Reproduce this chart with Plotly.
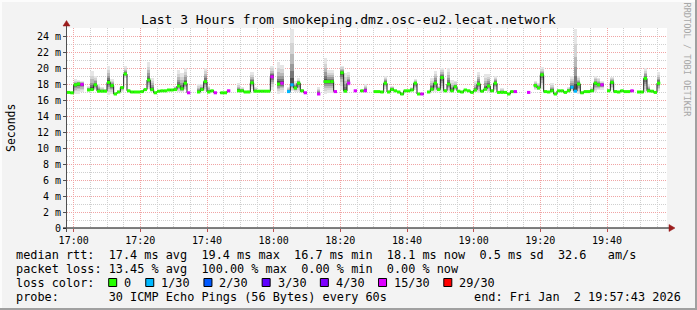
import plotly.graph_objects as go
from datetime import datetime, timedelta

# ---------------- data (one value per minute, 180 minutes) ----------------
start_time = datetime(2026, 1, 2, 16, 58, 0)

median_ms = [
    16.95, 16.9, 17.9, 18.0, 17.95, None, 17.25, 17.3, 17.9, 17.1,
    17.1, 17.1, 18.2, 17.8, 16.75, 17.0, 17.55, 19.25, 17.15, 17.0,
    17.0, 17.0, 17.05, 17.3, 18.5, 17.3, 16.9, 17.1, 17.15, 17.15,
    17.25, 17.25, 17.3, 17.75, 17.4, 18.1, 16.9, None, None, 17.0,
    17.3, 18.3, 17.0, 17.15, 16.9, None, 16.9, 16.9, 17.15, None,
    None, 17.15, 17.15, 17.0, 17.0, 18.15, 17.1, 17.1, 17.1, 17.1,
    17.1, 18.9, None, 18.0, 18.1, None, 17.05, 17.9, 17.5, 18.1,
    17.15, 16.9, None, None, None, 16.75, None, 18.3, 18.3, 18.3,
    17.05, None, 19.4, 17.1, 18.1, None, 17.15, None, 17.15, 17.15,
    None, None, 17.05, 17.05, 17.0, 18.1, 17.0, 17.3, 17.15, 17.0,
    16.75, 17.15, 17.15, 17.25, 18.1, 16.75, 16.75, None, 17.0, 17.35,
    18.1, 17.3, 18.8, 17.15, 18.0, 17.15, 17.65, 17.1, 17.0, 17.25,
    17.15, 16.95, 17.25, 18.0, 17.1, 17.35, 17.75, 17.15, 18.1, 16.95,
    16.95, 16.95, 16.75, 17.05, 17.05, None, None, None, 16.95, None,
    17.8, 17.5, 19.15, 17.05, 17.0, 17.15, 16.75, 17.15, 17.15, 16.95,
    17.15, 17.6, 17.1, 18.0, 16.9, 17.05, 17.05, 17.15, 18.1, 17.9,
    17.9, None, 17.15, 18.2, 17.05, 17.0, 17.15, 17.05, 17.05, 17.15,
    None, 17.0, 17.0, 18.7, 17.15, 17.1, 16.95, 18.1, None, None,
]

lost_pings = [
    0, 0, 0, 0, 15, 30, 0, 0, 0, 0,
    0, 0, 0, 0, 0, 0, 0, 0, 0, 0,
    0, 0, 0, 0, 0, 0, 0, 0, 0, 0,
    0, 0, 0, 0, 0, 0, 15, 30, 30, 0,
    0, 0, 0, 0, 15, 30, 0, 0, 15, 30,
    30, 0, 0, 0, 0, 0, 0, 0, 0, 0,
    0, 15, 30, 0, 15, 30, 1, 1, 0, 0,
    0, 15, 30, 30, 30, 15, 30, 0, 0, 0,
    15, 30, 0, 0, 15, 30, 15, 30, 0, 15,
    30, 30, 0, 0, 0, 0, 0, 0, 0, 0,
    0, 0, 0, 0, 0, 0, 15, 30, 0, 0,
    0, 0, 0, 0, 0, 0, 0, 0, 0, 0,
    0, 0, 0, 0, 0, 0, 0, 0, 0, 0,
    0, 0, 0, 0, 15, 30, 30, 30, 15, 30,
    0, 0, 0, 0, 0, 0, 0, 0, 0, 0,
    0, 1, 1, 0, 0, 0, 0, 0, 0, 0,
    15, 30, 0, 0, 0, 0, 0, 0, 0, 15,
    30, 0, 0, 0, 0, 0, 0, 0, 30, 30,
]

smoke_lo = [
    16.85, 16.8, 16.8, 16.8, 17.0, None, 17.1, 17.1, 17.2, 16.9,
    17.0, 17.0, 16.6, 16.75, 16.65, 16.9, 17.0, 18.8, 17.0, 16.9,
    16.9, 16.9, 16.95, 17.1, 17.4, 17.0, 16.8, 17.0, 17.05, 17.05,
    17.1, 17.1, 17.1, 17.0, 17.0, 17.2, 16.8, None, None, 16.9,
    17.1, 17.15, 16.9, 17.0, 16.8, None, 16.8, 16.8, 17.05, None,
    None, 17.0, 17.0, 16.9, 16.9, 17.4, 17.0, 17.0, 17.0, 17.0,
    17.0, 17.2, None, 16.8, 16.9, None, 16.95, 17.1, 17.0, 17.0,
    17.0, 16.8, None, None, None, 16.65, None, 16.8, 16.9, 16.9,
    16.95, None, 17.2, 17.0, 17.8, None, 17.05, None, 17.05, 17.05,
    None, None, 16.95, 16.95, 16.9, 17.4, 16.9, 17.1, 17.05, 16.9,
    16.65, 17.0, 17.0, 17.1, 17.3, 16.65, 16.65, None, 16.9, 17.0,
    17.0, 17.1, 17.0, 17.0, 17.0, 17.0, 17.2, 17.0, 16.9, 17.1,
    17.0, 16.85, 17.0, 16.9, 17.0, 17.1, 17.0, 17.0, 17.2, 16.85,
    16.85, 16.85, 16.65, 16.95, 16.95, None, None, None, 16.85, None,
    17.3, 17.2, 17.4, 16.95, 16.9, 17.0, 16.65, 17.05, 17.05, 16.85,
    17.0, 17.1, 17.0, 16.8, 16.8, 16.95, 16.95, 17.0, 17.0, 17.2,
    17.3, None, 17.0, 17.2, 16.95, 16.9, 17.05, 16.95, 16.95, 17.05,
    None, 16.9, 16.9, 17.0, 17.0, 17.0, 16.85, 17.1, None, None,
]

smoke_hi = [
    17.1, 17.05, 18.6, 18.5, 18.4, None, 17.8, 19.6, 19.0, 18.0,
    17.6, 17.4, 20.3, 18.6, 17.0, 17.2, 17.8, 20.2, 17.3, 17.1,
    17.1, 17.15, 17.2, 17.5, 20.7, 18.8, 17.1, 17.2, 17.3, 17.3,
    17.4, 17.4, 17.8, 19.8, 19.4, 20.0, 17.0, None, None, 18.0,
    18.0, 20.0, 17.8, 17.3, 17.0, None, 17.0, 17.0, 17.25, None,
    None, 18.1, 17.6, 17.1, 17.2, 19.45, 17.6, 17.2, 17.2, 17.2,
    17.3, 20.3, None, 20.7, 20.4, None, 17.6, 24.9, 18.4, 18.7,
    17.4, 17.0, None, None, None, 17.65, None, 21.3, 19.8, 19.8,
    17.2, None, 20.3, 19.4, 19.55, None, 17.3, None, 17.3, 18.0,
    None, None, 17.15, 17.15, 17.1, 19.0, 17.2, 17.8, 17.3, 17.1,
    16.9, 17.3, 17.3, 17.6, 18.6, 16.9, 16.85, None, 17.1, 18.8,
    19.65, 17.8, 20.0, 17.4, 20.0, 18.5, 18.4, 17.3, 17.1, 17.4,
    17.3, 17.1, 18.4, 19.55, 17.3, 19.25, 19.25, 17.4, 19.0, 17.05,
    17.5, 17.05, 16.9, 17.2, 17.15, None, None, None, 17.05, None,
    18.4, 18.1, 20.1, 17.2, 17.1, 18.1, 16.9, 17.3, 17.3, 17.1,
    17.6, 19.0, 24.9, 19.0, 17.1, 17.2, 17.2, 17.6, 18.95, 18.8,
    18.4, None, 17.4, 18.9, 17.2, 17.1, 17.3, 17.15, 17.15, 17.3,
    None, 17.15, 17.15, 20.0, 18.0, 17.2, 17.1, 19.55, None, None,
]

loss_thresholds = [0, 1, 2, 3, 4, 15, 29]
loss_labels = ["0", "1/30", "2/30", "3/30", "4/30", "15/30", "29/30"]
loss_colors = ["#26ff00", "#00b8ff", "#0059ff", "#5e00ff", "#7e00ff", "#dd00ff", "#ff0000"]

y_tick_vals = [0, 2, 4, 6, 8, 10, 12, 14, 16, 18, 20, 22, 24]
y_tick_text = ["0", "2 m", "4 m", "6 m", "8 m", "10 m", "12 m", "14 m", "16 m",
               "18 m", "20 m", "22 m", "24 m"]

title_text = "Last 3 Hours from smokeping.dmz.osc-eu2.lecat.network"
line_median = "median rtt:  17.4 ms avg  19.4 ms max  16.7 ms min  18.1 ms now  0.5 ms sd  32.6   am/s"
line_loss = "packet loss: 13.45 % avg  100.00 % max  0.00 % min  0.00 % now"
line_probe = "probe:       30 ICMP Echo Pings (56 Bytes) every 60s"
line_end = "end: Fri Jan  2 19:57:43 2026"

# ---------------- geometry helpers ----------------
W, H = 697, 310
L, R, T, B = 67, 667, 28, 228
PW, PH = R - L, B - T


def PX(x):
    return (x - L) / PW


def PY(y):
    return (B - y) / PH


MONO = "DejaVu Sans Mono"
n = len(median_ms)
t_start = [start_time + timedelta(minutes=i) for i in range(n)]
t_end = [start_time + timedelta(minutes=i + 1) for i in range(n)]
t_mid = [start_time + timedelta(seconds=60 * i + 30) for i in range(n)]

fig = go.Figure()

# ---------------- smoke ----------------
fractions = [1.0, 0.75, 0.55, 0.38, 0.24, 0.12]
shades = ["#e6e6e6", "#d3d3d3", "#b9b9b9", "#9a9a9a", "#777777", "#505050"]
for f, c in zip(fractions, shades):
    base, hgt = [], []
    for m, lo, hi in zip(median_ms, smoke_lo, smoke_hi):
        if m is None or lo is None:
            base.append(None)
            hgt.append(None)
        else:
            b0 = m - f * (m - lo)
            b1 = m + f * (hi - m)
            base.append(b0)
            hgt.append(b1 - b0)
    fig.add_trace(go.Bar(x=t_mid, y=hgt, base=base, width=60000,
                         marker=dict(color=c, line=dict(width=0)),
                         showlegend=False, hoverinfo="skip"))

# ---------------- median line (black steps) ----------------
fig.add_trace(go.Scatter(x=t_start, y=median_ms, mode="lines",
                         line=dict(color="#202020", width=1, shape="hv"),
                         connectgaps=False, showlegend=False, hoverinfo="skip"))


def color_for(lost):
    idx = 0
    for k, th in enumerate(loss_thresholds):
        if lost >= th:
            idx = k
    return loss_colors[idx]


segs = {}
for i in range(n):
    if median_ms[i] is None:
        continue
    c = color_for(lost_pings[i])
    xs, ys = segs.setdefault(c, ([], []))
    xs += [t_start[i], t_end[i], None]
    ys += [median_ms[i], median_ms[i], None]
for c, (xs, ys) in segs.items():
    fig.add_trace(go.Scatter(x=xs, y=ys, mode="lines",
                             line=dict(color=c, width=3),
                             showlegend=False, hoverinfo="skip"))

# ---------------- annotations ----------------
ann = []


def text(xpx, ypx, s, size=11.85, anchor="left", color="black", angle=0):
    ann.append(dict(x=PX(xpx), y=PY(ypx), xref="paper", yref="paper",
                    text=s.replace(" ", "\u00a0"), showarrow=False,
                    xanchor=anchor, yanchor="middle", textangle=angle,
                    borderpad=0, borderwidth=0,
                    font=dict(family=MONO, size=size, color=color)))


text(16, 254.5, line_median)
text(16, 268.5, line_loss)
text(16, 282.5, "loss color:")
text(16, 296.5, line_probe)
text(681, 296.5, line_end, anchor="right")
text(11, 128, "Seconds", size=11.5, anchor="center", angle=-90)
text(686.5, 60, "RRDTOOL / TOBI OETIKER", size=8.6, anchor="center",
     color="#a8a8a8", angle=90)

shapes = []
# legend swatches
bx = 108.7
for lab, col in zip(loss_labels, loss_colors):
    shapes.append(dict(type="rect", xref="paper", yref="paper",
                       x0=PX(bx), x1=PX(bx + 8), y0=PY(286.5), y1=PY(278.5),
                       fillcolor=col, line=dict(color="black", width=1)))
    text(bx + 15.5, 282.5, lab)
    bx = bx + 15.5 + len(lab) * 7.05 + 14.5

# frame
shapes.append(dict(type="rect", xref="paper", yref="paper", x0=PX(0), x1=PX(W),
                   y0=PY(308), y1=PY(310), fillcolor="#a0a0a0", line=dict(width=0)))
shapes.append(dict(type="rect", xref="paper", yref="paper", x0=PX(695), x1=PX(W),
                   y0=PY(0), y1=PY(310), fillcolor="#a0a0a0", line=dict(width=0)))
shapes.append(dict(type="rect", xref="paper", yref="paper", x0=PX(0), x1=PX(695),
                   y0=PY(0), y1=PY(2), fillcolor="#fcfcfc", line=dict(width=0)))
shapes.append(dict(type="rect", xref="paper", yref="paper", x0=PX(0), x1=PX(2),
                   y0=PY(0), y1=PY(308), fillcolor="#fcfcfc", line=dict(width=0)))
# axis lines
shapes.append(dict(type="line", xref="paper", yref="paper", x0=PX(63), x1=PX(670),
                   y0=PY(228), y1=PY(228), line=dict(color="black", width=1)))
shapes.append(dict(type="line", xref="paper", yref="paper", x0=PX(66.5), x1=PX(66.5),
                   y0=PY(232), y1=PY(25), line=dict(color="#505050", width=1)))
# arrows
shapes.append(dict(type="path", xref="paper", yref="paper",
                   path=f"M {PX(669)},{PY(224.5)} L {PX(675)},{PY(228)} L {PX(669)},{PY(231.5)} Z",
                   fillcolor="#9b1c1c", line=dict(color="#9b1c1c", width=0.5)))
shapes.append(dict(type="path", xref="paper", yref="paper",
                   path=f"M {PX(63)},{PY(26)} L {PX(66.5)},{PY(20.5)} L {PX(70)},{PY(26)} Z",
                   fillcolor="#9b1c1c", line=dict(color="#9b1c1c", width=0.5)))

fig.update_layout(
    template="none",
    width=W, height=H,
    margin=dict(l=L, r=W - R, t=T, b=H - B, pad=0),
    paper_bgcolor="#f3f3f3",
    plot_bgcolor="white",
    barmode="overlay",
    bargap=0,
    showlegend=False,
    font=dict(family=MONO, size=10, color="black"),
    title=dict(text=title_text, x=0.5, xref="container", xanchor="center",
               y=1 - 19.5 / H, yref="container", yanchor="middle",
               font=dict(family=MONO, size=13, color="black")),
    annotations=ann,
    shapes=shapes,
    xaxis=dict(type="date",
               range=[start_time, start_time + timedelta(minutes=180)],
               tick0=datetime(2026, 1, 2, 17, 0, 0), dtick=20 * 60 * 1000,
               tickformat="%H:%M", ticks="outside", ticklen=3, tickcolor="#c05050",
               showgrid=True, gridcolor="#f0a4a4", griddash="1px,1px", gridwidth=1,
               minor=dict(dtick=5 * 60 * 1000, showgrid=True, gridcolor="#cfcfcf",
                          griddash="1px,1px", gridwidth=1),
               showline=False, zeroline=False, automargin=False,
               tickfont=dict(family=MONO, size=10, color="black")),
    yaxis=dict(range=[0, 25], tickvals=y_tick_vals, ticktext=y_tick_text,
               ticks="outside", ticklen=3, tickcolor="#505050",
               showgrid=True, gridcolor="#f0a4a4", griddash="1px,1px", gridwidth=1,
               minor=dict(dtick=1, showgrid=True, gridcolor="#cfcfcf",
                          griddash="1px,1px", gridwidth=1),
               showline=False, zeroline=False, automargin=False,
               tickfont=dict(family=MONO, size=10, color="black")),
)

fig.write_html("out.html")
